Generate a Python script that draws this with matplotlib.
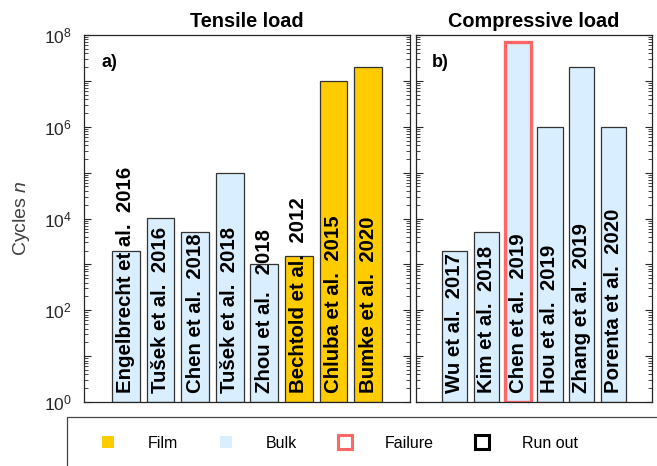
import matplotlib
matplotlib.use('Agg')
import matplotlib.pyplot as plt
from matplotlib.lines import Line2D
from matplotlib.patches import Rectangle
from matplotlib.ticker import LogLocator, FuncFormatter, NullFormatter
import numpy as np

plt.rcParams['font.family'] = ['Liberation Sans', 'DejaVu Sans']
plt.rcParams['mathtext.fontset'] = 'custom'
plt.rcParams['mathtext.rm'] = 'Liberation Sans'
plt.rcParams['mathtext.it'] = 'Liberation Sans:italic'
plt.rcParams['mathtext.bf'] = 'Liberation Sans:bold'

# data
tensile_labels = ["Engelbrecht et al.  2016", "Tušek et al.  2016", "Chen et al.  2018",
                  "Tušek et al.  2018", "Zhou et al.   2018", "Bechtold et al.  2012",
                  "Chluba et al.  2015", "Bumke et al.  2020"]
tensile_cycles = [2e3, 1e4, 5e3, 1e5, 1e3, 1.5e3, 1e7, 2e7]
tensile_type = ["Bulk", "Bulk", "Bulk", "Bulk", "Bulk", "Film", "Film", "Film"]
tensile_outcome = ["Run out"] * 8

comp_labels = ["Wu et al.  2017", "Kim et al.  2018", "Chen et al.  2019",
               "Hou et al.  2019", "Zhang et al.  2019", "Porenta et al.  2020"]
comp_cycles = [2e3, 5e3, 7e7, 1e6, 2e7, 1e6]
comp_type = ["Bulk"] * 6
comp_outcome = ["Run out", "Run out", "Failure", "Run out", "Run out", "Run out"]

FILM = '#ffcc00'
BULK = '#d9efff'
FAIL = '#ff6666'
EDGE = '#333333'
TXT = '#262626'

fig = plt.figure(figsize=(6.57, 4.66), dpi=100)
W, H = 657, 466
ax1 = fig.add_axes([84 / W, 1 - 402 / H, 326 / W, 367 / H])
ax2 = fig.add_axes([416 / W, 1 - 402 / H, 236 / W, 367 / H])


def draw_panel(ax, labels, cycles, types, outcomes, title, tag, tagx):
    x = np.arange(1, len(labels) + 1)
    colors = [FILM if t == "Film" else BULK for t in types]
    edges = [FAIL if o == "Failure" else EDGE for o in outcomes]
    lws = [2.4 if o == "Failure" else 0.9 for o in outcomes]
    ax.bar(x, cycles, width=0.8, color=colors, edgecolor=edges, linewidth=lws, bottom=1)
    ax.set_yscale('log')
    ax.set_ylim(1, 1e8)
    ax.set_xlim(1 - 1.21, len(labels) + 1.21)
    ax.set_xticks([])
    for xi, lab in zip(x, labels):
        ax.text(xi, 0.024, lab, rotation=90, ha='center', va='bottom',
                fontsize=14.7, fontweight='bold', color='black',
                transform=ax.get_xaxis_transform())
    ax.set_title(title, fontsize=14.3, fontweight='bold', pad=6)
    ax.text(tagx, 0.926, tag, transform=ax.transAxes, fontsize=13,
            fontweight='bold', va='center', ha='left')
    ax.yaxis.set_major_locator(LogLocator(base=10, numticks=20))
    ax.yaxis.set_minor_locator(LogLocator(base=10, subs=np.arange(2, 10), numticks=20))
    ax.yaxis.set_minor_formatter(NullFormatter())
    ax.tick_params(axis='y', which='both', direction='in', left=True, right=True,
                   colors=TXT, labelsize=12.5, pad=9)
    ax.tick_params(axis='y', which='major', length=5, width=0.8)
    ax.tick_params(axis='y', which='minor', length=3, width=0.6)
    for s in ax.spines.values():
        s.set_color(TXT)
        s.set_linewidth(0.9)


draw_panel(ax1, tensile_labels, tensile_cycles, tensile_type, tensile_outcome,
           "Tensile load", "a)", 0.055)
draw_panel(ax2, comp_labels, comp_cycles, comp_type, comp_outcome,
           "Compressive load", "b)", 0.068)

ax1.yaxis.set_major_formatter(FuncFormatter(
    lambda v, p: r'$\mathdefault{10^{%d}}$' % round(np.log10(v)) if round(np.log10(v)) % 2 == 0 else ''))
ax2.yaxis.set_major_formatter(NullFormatter())
ax1.set_ylabel(r'Cycles $n$', fontsize=14, color='#404040', labelpad=8)

# legend frame (extends past the figure edge like the original)
fig.patches.append(Rectangle((67 / W, -0.2), 700 / W, 1 - 417 / H + 0.2,
                             transform=fig.transFigure, facecolor='none',
                             edgecolor='#444444', linewidth=0.9, clip_on=False))
handles = [
    Line2D([], [], linestyle='none', marker='s', markersize=8.6, markerfacecolor=FILM,
           markeredgecolor=FILM, markeredgewidth=0),
    Line2D([], [], linestyle='none', marker='s', markersize=8.6, markerfacecolor=BULK,
           markeredgecolor=BULK, markeredgewidth=0),
    Line2D([], [], linestyle='none', marker='s', markersize=10, markerfacecolor='white',
           markeredgecolor=FAIL, markeredgewidth=2.2),
    Line2D([], [], linestyle='none', marker='s', markersize=10, markerfacecolor='white',
           markeredgecolor='black', markeredgewidth=2.2),
]
fig.legend(handles, ["Film", "Bulk", "Failure", "Run out"], ncol=4, frameon=False,
           loc='center left', bbox_to_anchor=(92 / W, 1 - 443 / H),
           fontsize=11.5, handlelength=2.0, handletextpad=1.5, columnspacing=2.0,
           borderpad=0, borderaxespad=0)

fig.savefig('out.png', dpi=100)
plt.close(fig)
